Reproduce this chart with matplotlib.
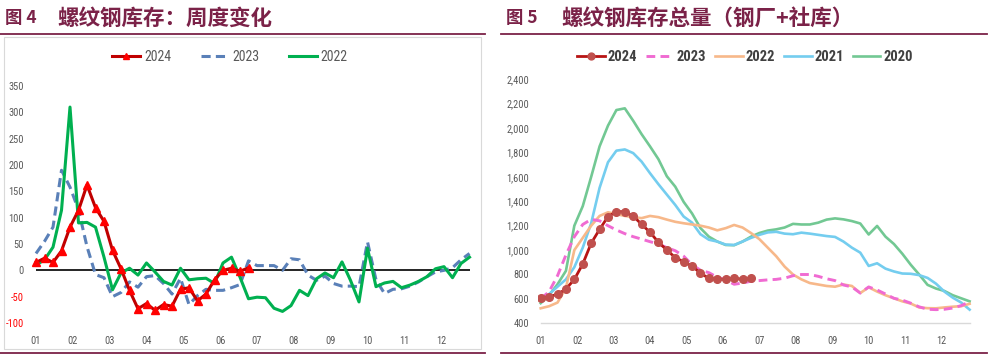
import matplotlib
matplotlib.use("Agg")
import matplotlib.pyplot as plt
from matplotlib.lines import Line2D
from matplotlib.patches import Rectangle
import numpy as np

# ---------------- data ----------------
month_labels = ["01", "02", "03", "04", "05", "06", "07", "08", "09", "10", "11", "12"]

# Fig 4: weekly change of rebar inventory
wk_2024 = [15, 23, 15, 37, 82, 114, 162, 119, 93, 38, 3, -38, -73, -63, -76, -65, -68,
           -36, -33, -58, -45, -18, 0, 4, -2, 5]
wk_2023 = [32, 55, 82, 190, 158, 115, 45, -8, -14, -50, -42, -22, -32, -12, -10, -25, -45,
           -15, -65, -48, -36, -38, -38, -33, -27, 18, 9, 9, 9, 0, 22, 20, -9, -19, -11, -25,
           -30, -30, -31, 54, -18, -44, -36, -35, -30, -22, -12, -3, 0, 5, 20, 32]
wk_2022 = [10, 20, 44, 114, 310, 90, 91, 82, 25, -37, -5, 4, -9, 14, -3, -21, -28, 4, -18,
           -16, -15, -25, 14, 25, -13, -54, -51, -52, -72, -78, -67, -38, -48, -16, -5, -14,
           16, -19, -60, 42, -31, -24, -21, -33, -28, -21, -12, 3, 7, -14, 13, 25]
left_yticks = [-100, -50, 0, 50, 100, 150, 200, 250, 300, 350]

# Fig 5: total rebar inventory (mills + social)
tot_2024 = [605, 618, 638, 681, 760, 886, 1056, 1170, 1274, 1315, 1315, 1279, 1211, 1146,
            1064, 1001, 938, 905, 870, 810, 769, 761, 761, 769, 761, 769]
tot_2023 = [600, 660, 790, 960, 1110, 1210, 1252, 1240, 1200, 1165, 1135, 1110, 1090, 1069,
            1050, 1020, 995, 950, 880, 835, 815, 777, 755, 720, 730, 745, 750, 756, 760, 770,
            790, 800, 800, 785, 765, 750, 714, 698, 648, 698, 673, 640, 605, 590, 565, 535,
            515, 512, 515, 525, 545, 577]
tot_2022 = [523, 540, 570, 690, 1000, 1100, 1200, 1280, 1310, 1295, 1280, 1270, 1262, 1280,
            1270, 1250, 1232, 1220, 1210, 1200, 1185, 1162, 1180, 1206, 1185, 1140, 1090, 1020,
            950, 865, 800, 760, 730, 718, 706, 700, 718, 706, 648, 695, 660, 630, 605, 580,
            562, 530, 524, 523, 530, 536, 540, 560]
tot_2021 = [605, 640, 700, 760, 860, 1020, 1220, 1510, 1720, 1815, 1825, 1795, 1725, 1630,
            1540, 1455, 1370, 1275, 1225, 1130, 1085, 1070, 1045, 1042, 1070, 1100, 1125, 1145,
            1150, 1135, 1130, 1143, 1135, 1125, 1115, 1108, 1070, 1020, 979, 870, 892, 848,
            825, 808, 806, 795, 772, 725, 660, 610, 570, 512]
tot_2020 = [565, 630, 720, 830, 1200, 1360, 1600, 1850, 2020, 2148, 2162, 2060, 1950, 1850,
            1745, 1605, 1520, 1395, 1300, 1180, 1110, 1070, 1042, 1040, 1070, 1110, 1140, 1160,
            1170, 1185, 1215, 1210, 1210, 1225, 1250, 1260, 1252, 1238, 1218, 1128, 1198, 1110,
            1050, 970, 880, 800, 715, 685, 665, 630, 605, 580]
right_yticks = [400, 600, 800, 1000, 1200, 1400, 1600, 1800, 2000, 2200, 2400]

# ---------------- style ----------------
W, H = 999, 355
TITLE_C = "#7B2248"
GRAY_T = "#595959"
NARROW = ["Roboto Condensed", "DejaVu Sans"]
CJK = ["Noto Sans CJK SC", "DejaVu Sans"]

fig = plt.figure(figsize=(W / 100, H / 100), dpi=100)
fig.patch.set_facecolor("white")


def add_px_axes(l, t, r, b):
    return fig.add_axes([l / W, 1 - b / H, (r - l) / W, (b - t) / H])


def fx(px):
    return px / W


def fy(py):
    return 1 - py / H


# decorations: titles, rules, frame
fig.text(fx(5), fy(18), "图 4", fontsize=12.5, fontweight="bold", color=TITLE_C,
         family=CJK, va="center", ha="left")
fig.text(fx(57), fy(18), "螺纹钢库存：周度变化", fontsize=15.5, fontweight="bold",
         color=TITLE_C, family=CJK, va="center", ha="left")
fig.text(fx(506), fy(18), "图 5", fontsize=12.5, fontweight="bold", color=TITLE_C,
         family=CJK, va="center", ha="left")
fig.text(fx(561), fy(18), "螺纹钢库存总量（钢厂+社库）", fontsize=15.5, fontweight="bold",
         color=TITLE_C, family=CJK, va="center", ha="left")

for (x0, x1) in [(0, 485), (501, 987)]:
    for yy in (33.5, 352.5):
        fig.add_artist(Line2D([fx(x0), fx(x1)], [fy(yy), fy(yy)], color=TITLE_C, lw=1.3))

fig.add_artist(Rectangle((fx(4), fy(349)), fx(481) - fx(4), fy(37) - fy(349),
                         fill=False, edgecolor="#D9D9D9", lw=0.8))

# ---------------- left chart ----------------
L_X0, L_DX = 36.0, 8.5
axL = add_px_axes(30, 86, 476, 323)
xL = np.arange(52)
axL.set_xlim((30 - L_X0) / L_DX, (476 - L_X0) / L_DX)
axL.set_ylim(-100, 350)
for s in axL.spines.values():
    s.set_visible(False)
axL.hlines(0, xL[0], xL[-1], color="black", lw=1.2, zorder=1)

h23, = axL.plot(xL[:len(wk_2023)], wk_2023, color="#5A80B8", lw=2.2, ls=(0, (3.0, 1.7)),
                zorder=2, clip_on=False)
h22, = axL.plot(xL[:len(wk_2022)], wk_2022, color="#00B050", lw=2.2, zorder=3, clip_on=False)
h24, = axL.plot(xL[:len(wk_2024)], wk_2024, color="#C00000", lw=2.2, marker="^",
                markersize=5.5, markerfacecolor="#FF0000", markeredgecolor="#FF0000",
                zorder=4, clip_on=False)

month_pos = [k * 52 / 12 for k in range(12)]
axL.set_xticks(month_pos)
axL.set_xticklabels(month_labels)
axL.set_yticks(left_yticks)
axL.set_yticklabels([str(v) for v in left_yticks])
axL.tick_params(axis="both", length=0, labelsize=7.5, labelcolor=GRAY_T)
axL.tick_params(axis="x", pad=9)
axL.tick_params(axis="y", pad=4.5)
for lab in axL.get_xticklabels() + axL.get_yticklabels():
    lab.set_family(NARROW)
for lab, v in zip(axL.get_yticklabels(), left_yticks):
    if v < 0:
        lab.set_color("#FF0000")

legL = fig.legend([h24, h23, h22], ["2024", "2023", "2022"], loc="center",
                  bbox_to_anchor=(fx(230), fy(57)), ncol=3, frameon=False,
                  prop={"family": NARROW, "size": 10}, handlelength=2.0,
                  handletextpad=0.3, columnspacing=2.1, borderpad=0, markerscale=0.8)
for t in legL.get_texts():
    t.set_color(GRAY_T)

# ---------------- right chart ----------------
R_X0, R_DX = 540.7, 8.41
axR = add_px_axes(538, 79.3, 972, 323.3)
xR = np.arange(52)
axR.set_xlim((538 - R_X0) / R_DX, (972 - R_X0) / R_DX)
axR.set_ylim(400, 2400)
for k, s in axR.spines.items():
    s.set_visible(k == "bottom")
axR.spines["bottom"].set_color("#D9D9D9")
axR.spines["bottom"].set_linewidth(1.0)
axR.spines["bottom"].set_bounds(xR[0], xR[-1])

lw = 1.9
g20, = axR.plot(xR[:len(tot_2020)], tot_2020, color="#72C893", lw=lw, zorder=2)
g21, = axR.plot(xR[:len(tot_2021)], tot_2021, color="#74CDEF", lw=lw, zorder=3)
g22, = axR.plot(xR[:len(tot_2022)], tot_2022, color="#F7B88A", lw=lw, zorder=4)
g23, = axR.plot(xR[:len(tot_2023)], tot_2023, color="#F06BD2", lw=2.1, ls=(0, (3.0, 1.8)),
                zorder=5)
g24, = axR.plot(xR[:len(tot_2024)], tot_2024, color="#B81414", lw=2.0, marker="o",
                markersize=5.5, markerfacecolor="#C0504D", markeredgecolor="#C0504D", zorder=6)

axR.set_xticks(month_pos)
axR.set_xticklabels(month_labels)
axR.set_yticks(right_yticks)
axR.set_yticklabels([f"{v:,}" for v in right_yticks])
axR.tick_params(axis="both", length=0, labelsize=7.5, labelcolor=GRAY_T)
axR.tick_params(axis="x", pad=9)
axR.tick_params(axis="y", pad=6.5)
for lab in axR.get_xticklabels() + axR.get_yticklabels():
    lab.set_family(NARROW)

legR = fig.legend([g24, g23, g22, g21, g20], ["2024", "2023", "2022", "2021", "2020"],
                  loc="center", bbox_to_anchor=(fx(745), fy(57)), ncol=5, frameon=False,
                  prop={"family": NARROW, "size": 10.5, "weight": "bold"}, handlelength=1.9,
                  handletextpad=0.2, columnspacing=0.6, borderpad=0, markerscale=0.9)
for t in legR.get_texts():
    t.set_color("#404040")

fig.savefig("out.png", dpi=100, facecolor="white")
